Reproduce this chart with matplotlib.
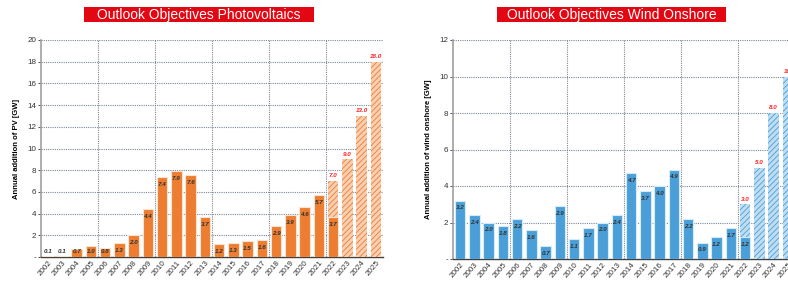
import matplotlib
matplotlib.use("Agg")
import matplotlib.pyplot as plt
from matplotlib.patches import Rectangle

plt.rcParams['font.family'] = ['Liberation Sans', 'DejaVu Sans']
plt.rcParams['hatch.linewidth'] = 0.6

# データ
years = [str(y) for y in range(2002, 2026)]

pv_actual = [0.1, 0.1, 0.7, 1.0, 0.8, 1.3, 2.0, 4.4, 7.4, 7.9, 7.6, 3.7,
             1.2, 1.3, 1.5, 1.6, 2.9, 3.9, 4.6, 5.7, 3.7, 0, 0, 0]
pv_target = [0, 0, 0, 0, 0, 0, 0, 0, 0, 0, 0, 0,
             0, 0, 0, 0, 0, 0, 0, 0, 7.0, 9.0, 13.0, 18.0]
pv_target_labels = ["7.0", "9.0", "13.0", "18.0"]

wind_actual = [3.2, 2.4, 2.0, 1.8, 2.2, 1.6, 0.7, 2.9, 1.1, 1.7, 2.0, 2.4,
               4.7, 3.7, 4.0, 4.9, 2.2, 0.9, 1.2, 1.7, 1.2, 0, 0, 0]
wind_target = [0, 0, 0, 0, 0, 0, 0, 0, 0, 0, 0, 0,
               0, 0, 0, 0, 0, 0, 0, 0, 3.0, 5.0, 8.0, 10.0]
wind_target_labels = ["3.0", "5.0", "8.0", "10"]

fig = plt.figure(figsize=(7.88, 2.82), dpi=100)


def draw_panel(rect, actual, target, tlabels, ymax, step, color, light,
               edge, ylabel, off, minpos):
    ax = fig.add_axes(rect)
    x = list(range(len(years)))
    for i in x:
        if target[i] > 0:
            ax.bar(i, target[i] - actual[i], bottom=actual[i], width=0.75,
                   facecolor=light, edgecolor=color, hatch='//////',
                   linewidth=0, zorder=3)
        if actual[i] > 0:
            ax.bar(i, actual[i], width=0.75, color=color, edgecolor=edge,
                   linewidth=0.8, zorder=4)
            ax.text(i, max(actual[i] - off, minpos), f"{actual[i]:.1f}",
                    ha='center', va='center', fontsize=4.5, style='italic',
                    fontweight='bold', color='#333333', zorder=5)
    k = 0
    for i in x:
        if target[i] > 0:
            ax.text(i, target[i] + ymax * 0.012, tlabels[k], ha='center',
                    va='bottom', fontsize=4.5, style='italic',
                    fontweight='bold', color='#FF2020', zorder=5)
            k += 1

    ax.set_xlim(-0.5, len(years) - 0.5)
    ax.set_ylim(0, ymax)
    yt = list(range(0, ymax + 1, step))
    ax.set_yticks(yt)
    ax.set_yticklabels(['-'] + [str(v) for v in yt[1:]])
    ax.set_xticks(x)
    ax.set_xticklabels(years, rotation=50, ha='right', rotation_mode='anchor')
    ax.tick_params(axis='both', labelsize=5.8, length=2, width=0.6,
                   colors='#333333', pad=1.5)
    ax.tick_params(axis='x', length=0)

    # 点線グリッド
    for v in yt[1:]:
        ax.axhline(v, color='#7d8796', linestyle=(0, (1, 1)),
                   linewidth=0.8, zorder=1)
    for b in range(4, len(years) + 1, 4):
        ax.axvline(b - 0.5, color='#7d8796', linestyle=(0, (1, 1)),
                   linewidth=0.8, zorder=1)

    for s in ['top', 'right']:
        ax.spines[s].set_visible(False)
    ax.spines['left'].set_color('#a0a0a0')
    ax.spines['left'].set_linewidth(1.2)
    ax.spines['bottom'].set_color('#404040')
    ax.spines['bottom'].set_linewidth(1.0)
    ax.set_ylabel(ylabel, fontsize=5.5, fontweight='bold', labelpad=5)
    return ax


draw_panel([41 / 788, 1 - 257 / 282, 342 / 788, 217 / 282],
           pv_actual, pv_target, pv_target_labels, 20, 2,
           '#ED7D31', '#F9CFB2', '#fbe3d2',
           'Annual addition of PV [GW]', 0.7, 0.55)
draw_panel([453 / 788, 1 - 259 / 282, 342 / 788, 219 / 282],
           wind_actual, wind_target, wind_target_labels, 12, 2,
           '#4A9FD8', '#BFDDF2', '#d6ebf8',
           'Annual addition of wind onshore [GW]', 0.4, 0.3)


def title_box(x0, x1, text):
    fig.patches.append(Rectangle((x0 / 788, 1 - 22 / 282), (x1 - x0) / 788,
                                 15 / 282, transform=fig.transFigure,
                                 facecolor='#E30613', edgecolor='none'))
    fig.text((x0 + x1) / 2 / 788, 1 - 14.8 / 282, text, ha='center',
             va='center', color='white', fontsize=10)


title_box(84, 314, "Outlook Objectives Photovoltaics")
title_box(497, 726, "Outlook Objectives Wind Onshore")

fig.savefig("out.png", dpi=100)
